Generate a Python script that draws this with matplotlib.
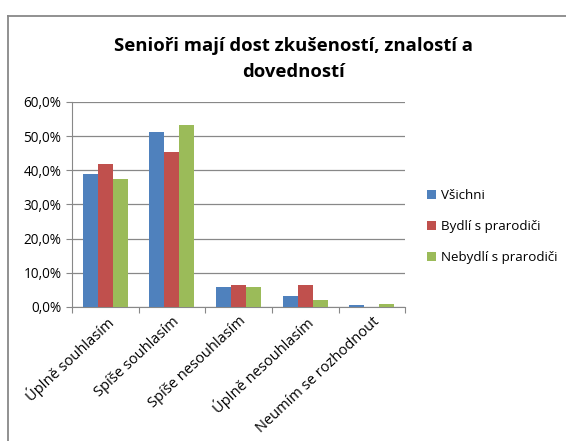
import numpy as np
import matplotlib.pyplot as plt
from matplotlib.lines import Line2D
from matplotlib.ticker import FuncFormatter

categories = ['Úplně souhlasím', 'Spíše souhlasím', 'Spíše nesouhlasím',
              'Úplně nesouhlasím', 'Neumím se rozhodnout']
vsichni = [38.8, 51.2, 5.9, 3.1, 0.7]
bydli = [41.9, 45.3, 6.4, 6.4, 0.0]
nebydli = [37.4, 53.3, 5.7, 2.1, 1.0]
series_names = ['Všichni', 'Bydlí s prarodiči', 'Nebydlí s prarodiči']
colors = ['#4F81BD', '#C0504D', '#9BBB59']

plt.rcParams['font.family'] = ['Open Sans', 'DejaVu Sans']

fig = plt.figure(figsize=(5.66, 4.41), dpi=100)
ax = fig.add_axes([0.127, 0.304, 0.589, 0.465])

x = np.arange(len(categories))
w = 0.225
for i, (vals, name, c) in enumerate(zip([vsichni, bydli, nebydli], series_names, colors)):
    ax.bar(x + (i - 1) * w, vals, w, color=c, label=name, zorder=3)

ax.set_xlim(-0.5, len(categories) - 0.5)
ax.set_ylim(0, 60)
ax.set_yticks(np.arange(0, 61, 10))
ax.yaxis.set_major_formatter(FuncFormatter(lambda v, p: ('%.1f%%' % v).replace('.', ',')))
ax.grid(axis='y', color='#888888', linewidth=0.9, zorder=0)

ax.set_xticks(np.arange(-0.5, len(categories), 1.0))
ax.set_xticklabels([])
ax.set_xticks(x, minor=True)
ax.set_xticklabels(categories, minor=True, rotation=43, ha='right',
                   rotation_mode='anchor', fontsize=10.5)
ax.tick_params(axis='x', which='minor', length=0, pad=5)
ax.tick_params(axis='x', which='major', length=4, color='#888888')
ax.tick_params(axis='y', length=4, color='#888888', labelsize=9.8)

for s in ['top', 'right']:
    ax.spines[s].set_visible(False)
for s in ['left', 'bottom']:
    ax.spines[s].set_color('#888888')

fig.text(0.518, 0.866, 'Senioři mají dost zkušeností, znalostí a\ndovedností',
         ha='center', va='center', fontsize=13.3, fontweight='bold', linespacing=1.6)

ax.legend(loc='center left', bbox_to_anchor=(1.0, 0.39), frameon=False,
          fontsize=9.6, handlelength=0.7, handleheight=0.7, labelspacing=1.35,
          handletextpad=0.35, borderaxespad=1.2)

# chart area frame (cropped on the right and bottom)
fx, fy = 7.5 / 566, 1 - 15.5 / 441
fig.add_artist(Line2D([fx, 1.0], [fy, fy], transform=fig.transFigure,
                      color='#888888', linewidth=1.3))
fig.add_artist(Line2D([fx, fx], [0.0, fy], transform=fig.transFigure,
                      color='#888888', linewidth=1.3))

plt.savefig('out.png', dpi=100)
